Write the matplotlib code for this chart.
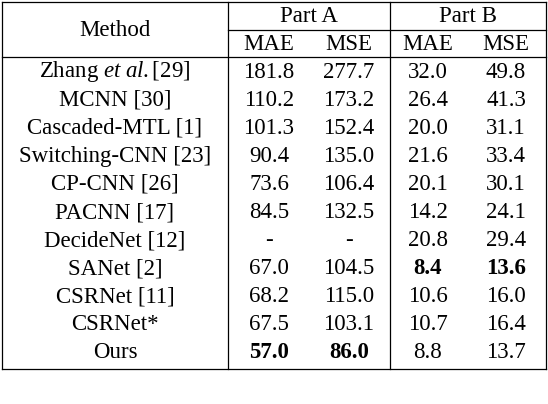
import matplotlib.pyplot as plt

methods = ['Zhang $et\\ al.$[29]', 'MCNN [30]', 'Cascaded-MTL [1]', 'Switching-CNN [23]',
           'CP-CNN [26]', 'PACNN [17]', 'DecideNet [12]', 'SANet [2]', 'CSRNet [11]',
           'CSRNet*', 'Ours']
a_mae = ['181.8', '110.2', '101.3', '90.4', '73.6', '84.5', '-', '67.0', '68.2', '67.5', '57.0']
a_mse = ['277.7', '173.2', '152.4', '135.0', '106.4', '132.5', '-', '104.5', '115.0', '103.1', '86.0']
b_mae = ['32.0', '26.4', '20.0', '21.6', '20.1', '14.2', '20.8', '8.4', '10.6', '10.7', '8.8']
b_mse = ['49.8', '41.3', '31.1', '33.4', '30.1', '24.1', '29.4', '13.6', '16.0', '16.4', '13.7']
# bold cells: (row, column)
bold = {(10, 1), (10, 2), (7, 3), (7, 4)}

plt.rcParams['font.family'] = ['Liberation Serif', 'DejaVu Serif']
plt.rcParams['mathtext.fontset'] = 'custom'
plt.rcParams['mathtext.rm'] = 'Liberation Serif'
plt.rcParams['mathtext.it'] = 'Liberation Serif:italic'

fig = plt.figure(figsize=(5.48, 4.04), dpi=100)
ax = fig.add_axes([0, 0, 1, 1])
ax.set_xlim(0, 548)
ax.set_ylim(404, 0)
ax.axis('off')

fs = 16.5
lw = 0.9
xl, xa, xb, xr = 2, 228, 390, 546
cols = [115, 269, 349, 428, 506]

# grid lines
for y in (2, 57, 369):
    ax.plot([xl, xr], [y, y], color='black', lw=lw)
ax.plot([xa, xr], [30, 30], color='black', lw=lw)
for x in (xl, xa, xb, xr):
    ax.plot([x, x], [2, 369], color='black', lw=lw)

# header
ax.text(cols[0], 30, 'Method', ha='center', va='center', fontsize=fs)
ax.text((xa + xb) / 2, 16, 'Part A', ha='center', va='center', fontsize=fs)
ax.text((xb + xr) / 2, 16, 'Part B', ha='center', va='center', fontsize=fs)
for x, lab in zip(cols[1:], ['MAE', 'MSE', 'MAE', 'MSE']):
    ax.text(x, 44, lab, ha='center', va='center', fontsize=fs)

y0, dy = 72, 28.1
for i, row in enumerate(zip(methods, a_mae, a_mse, b_mae, b_mse)):
    y = y0 + i * dy
    for j, val in enumerate(row):
        ax.text(cols[j], y, val, ha='center', va='center', fontsize=fs,
                fontweight='bold' if (i, j) in bold else 'normal')

fig.savefig('out.png', dpi=100)
